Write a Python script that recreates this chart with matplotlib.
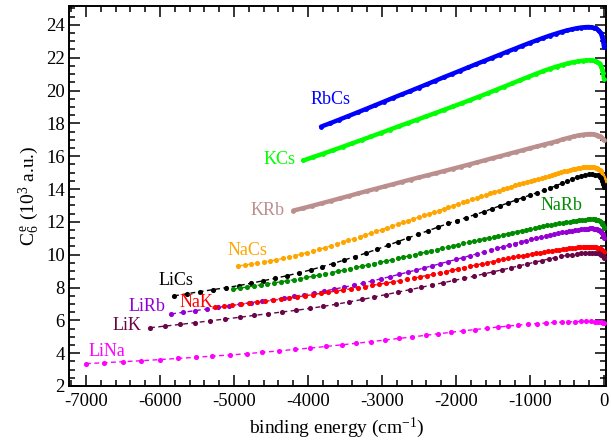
import matplotlib
matplotlib.use("Agg")
import matplotlib.pyplot as plt
from matplotlib.ticker import MultipleLocator

# C6 coefficients of vibrational levels vs binding energy
rbcs_x = [-3824, -3700, -3576, -3453, -3331, -3210, -3090, -2971, -2853, -2736, -2620, -2505,
          -2391, -2278, -2166, -2055, -1945, -1836, -1728, -1621, -1515, -1410, -1306, -1204,
          -1104, -1006, -911, -819, -731, -647, -568, -494, -426, -364, -308, -258, -214, -175,
          -140, -110, -84, -62, -43, -28, -15, -5, 0]
rbcs_y = [17.80, 18.01, 18.23, 18.45, 18.67, 18.89, 19.11, 19.33, 19.55, 19.76, 19.97, 20.18,
          20.39, 20.60, 20.81, 21.01, 21.21, 21.41, 21.61, 21.80, 21.99, 22.18, 22.37, 22.55,
          22.73, 22.90, 23.06, 23.21, 23.35, 23.47, 23.58, 23.67, 23.74, 23.80, 23.84, 23.86,
          23.87, 23.86, 23.83, 23.78, 23.71, 23.61, 23.48, 23.30, 23.07, 22.82, 22.65]

kcs_x = [-4064, -3930, -3797, -3665, -3534, -3404, -3275, -3147, -3020, -2894, -2769, -2645,
         -2522, -2400, -2279, -2159, -2040, -1922, -1805, -1689, -1574, -1460, -1348, -1238,
         -1130, -1025, -923, -825, -731, -642, -559, -482, -411, -347, -290, -240, -196, -158,
         -125, -97, -73, -53, -36, -22, -11, 0]
kcs_y = [15.74, 15.95, 16.15, 16.36, 16.57, 16.78, 16.99, 17.20, 17.41, 17.62, 17.83, 18.03,
         18.23, 18.43, 18.63, 18.83, 19.03, 19.23, 19.43, 19.63, 19.83, 20.04, 20.24, 20.44,
         20.64, 20.83, 21.01, 21.18, 21.33, 21.46, 21.57, 21.66, 21.73, 21.78, 21.82, 21.84,
         21.85, 21.84, 21.81, 21.76, 21.69, 21.59, 21.45, 21.27, 21.04, 20.70]

krb_x = [-4198, -4070, -3943, -3817, -3692, -3568, -3445, -3323, -3202, -3082, -2963, -2845,
         -2728, -2612, -2497, -2383, -2270, -2158, -2047, -1937, -1828, -1720, -1613, -1507,
         -1402, -1298, -1196, -1096, -998, -903, -811, -722, -637, -556, -480, -409, -344,
         -285, -232, -185, -144, -109, -80, -56, -37, -22, -10, 0]
krb_y = [12.69, 12.83, 12.98, 13.13, 13.28, 13.43, 13.58, 13.73, 13.88, 14.02, 14.16, 14.30,
         14.44, 14.58, 14.71, 14.84, 14.97, 15.10, 15.23, 15.36, 15.49, 15.62, 15.75, 15.88,
         16.00, 16.13, 16.25, 16.37, 16.49, 16.60, 16.71, 16.81, 16.91, 17.03, 17.12, 17.20,
         17.27, 17.31, 17.34, 17.35, 17.34, 17.31, 17.26, 17.20, 17.14, 17.08, 17.03, 16.98]

nacs_x = [-4946, -4858, -4770, -4683, -4597, -4511, -4426, -4342, -4258, -4175, -4093, -4011,
          -3930, -3850, -3770, -3691, -3612, -3534, -3457, -3380, -3304, -3228, -3153, -3079,
          -3005, -2932, -2859, -2787, -2716, -2645, -2575, -2506, -2437, -2369, -2301, -2234,
          -2168, -2102, -2037, -1973, -1909, -1846, -1784, -1722, -1661, -1601, -1541, -1482,
          -1424, -1367, -1311, -1255, -1200, -1146, -1093, -1041, -990, -940, -891, -843, -796,
          -750, -705, -661, -618, -577, -537, -498, -460, -423, -388, -354, -321, -290, -260,
          -232, -205, -180, -156, -134, -113, -94, -77, -61, -47, -35, -24, -15, -7, 0]
nacs_y = [9.32, 9.37, 9.43, 9.49, 9.55, 9.62, 9.69, 9.77, 9.85, 9.94, 10.03, 10.13,
          10.23, 10.33, 10.43, 10.54, 10.65, 10.76, 10.87, 10.98, 11.09, 11.20, 11.31, 11.42,
          11.53, 11.64, 11.75, 11.86, 11.97, 12.07, 12.18, 12.28, 12.39, 12.49, 12.59, 12.69,
          12.79, 12.89, 12.99, 13.09, 13.19, 13.28, 13.38, 13.47, 13.56, 13.65, 13.74, 13.83,
          13.91, 13.99, 14.07, 14.15, 14.23, 14.30, 14.37, 14.44, 14.51, 14.57, 14.63, 14.69,
          14.75, 14.81, 14.86, 14.92, 14.97, 15.02, 15.07, 15.11, 15.16, 15.20, 15.24, 15.27,
          15.30, 15.32, 15.34, 15.35, 15.36, 15.36, 15.35, 15.33, 15.31, 15.27, 15.22, 15.16,
          15.08, 14.99, 14.88, 14.76, 14.62, 14.46]

lics_x = [-5811, -5635, -5459, -5284, -5108, -4932, -4770, -4608, -4446, -4284, -4122, -3959,
          -3811, -3662, -3514, -3365, -3216, -3068, -2919, -2784, -2649, -2514, -2378, -2243,
          -2108, -1986, -1865, -1743, -1622, -1514, -1405, -1297, -1189, -1095, -1000, -905,
          -811, -730, -649, -568, -500, -432, -365, -311, -257, -203, -162, -122, -88, -61,
          -41, -23, -9, 0]
lics_y = [7.49, 7.62, 7.75, 7.87, 7.99, 8.12, 8.26, 8.41, 8.56, 8.72, 8.89, 9.08,
          9.27, 9.46, 9.67, 9.88, 10.10, 10.33, 10.57, 10.80, 11.02, 11.24, 11.46, 11.68,
          11.90, 12.08, 12.26, 12.44, 12.62, 12.80, 12.98, 13.15, 13.33, 13.48, 13.63, 13.78,
          13.93, 14.06, 14.20, 14.35, 14.47, 14.60, 14.72, 14.80, 14.87, 14.90, 14.90, 14.88,
          14.84, 14.76, 14.65, 14.50, 14.30, 14.10]

narb_x = [-5014, -4920, -4826, -4732, -4640, -4550, -4460, -4370, -4282, -4195, -4108, -4022,
          -3936, -3850, -3765, -3680, -3596, -3512, -3430, -3348, -3266, -3185, -3104, -3024,
          -2945, -2866, -2788, -2710, -2633, -2557, -2481, -2406, -2332, -2258, -2185, -2113,
          -2041, -1970, -1900, -1830, -1761, -1693, -1626, -1559, -1493, -1428, -1364, -1300,
          -1237, -1175, -1114, -1054, -995, -937, -880, -824, -769, -715, -662, -611, -561,
          -512, -465, -419, -375, -333, -293, -255, -219, -186, -155, -127, -102, -80, -61,
          -45, -32, -21, -12, -5, 0]
narb_y = [7.90, 7.96, 8.03, 8.09, 8.16, 8.22, 8.28, 8.35, 8.41, 8.47, 8.54, 8.61,
          8.68, 8.76, 8.83, 8.91, 8.98, 9.06, 9.14, 9.22, 9.30, 9.38, 9.46, 9.54,
          9.61, 9.69, 9.77, 9.85, 9.93, 10.00, 10.08, 10.16, 10.24, 10.31, 10.39, 10.46,
          10.54, 10.61, 10.69, 10.76, 10.83, 10.90, 10.97, 11.03, 11.10, 11.16, 11.22, 11.29,
          11.35, 11.41, 11.47, 11.52, 11.58, 11.63, 11.68, 11.73, 11.78, 11.82, 11.86, 11.90,
          11.94, 11.97, 12.01, 12.04, 12.07, 12.10, 12.12, 12.14, 12.15, 12.16, 12.16, 12.15,
          12.13, 12.10, 12.06, 12.01, 11.95, 11.87, 11.79, 11.71, 11.62]

lirb_x = [-5850, -5688, -5526, -5364, -5216, -5068, -4919, -4770, -4622, -4473, -4324, -4189,
          -4054, -3919, -3784, -3649, -3514, -3378, -3257, -3135, -3014, -2892, -2770, -2649,
          -2541, -2432, -2324, -2216, -2108, -2000, -1905, -1811, -1716, -1622, -1527, -1446,
          -1365, -1284, -1203, -1122, -1054, -986, -919, -851, -784, -730, -676, -622, -568,
          -514, -473, -432, -392, -351, -311, -277, -243, -216, -189, -162, -142, -122, -101,
          -81, -68, -54, -41, -27, -18, -9, 0]
lirb_y = [6.39, 6.49, 6.59, 6.69, 6.79, 6.89, 6.99, 7.08, 7.17, 7.26, 7.36, 7.46,
          7.56, 7.67, 7.78, 7.90, 8.02, 8.15, 8.27, 8.40, 8.53, 8.66, 8.80, 8.94,
          9.06, 9.19, 9.32, 9.45, 9.58, 9.71, 9.82, 9.94, 10.05, 10.17, 10.28, 10.38,
          10.48, 10.58, 10.68, 10.78, 10.86, 10.93, 11.00, 11.08, 11.15, 11.21, 11.26, 11.31,
          11.36, 11.41, 11.44, 11.47, 11.50, 11.53, 11.55, 11.57, 11.58, 11.59, 11.60, 11.60,
          11.59, 11.58, 11.56, 11.53, 11.50, 11.46, 11.40, 11.32, 11.24, 11.14, 11.00]

nak_x = [-5255, -5141, -5026, -4911, -4796, -4688, -4580, -4472, -4364, -4256, -4148, -4039,
         -3931, -3830, -3729, -3627, -3526, -3425, -3323, -3229, -3134, -3040, -2945, -2851,
         -2756, -2661, -2574, -2486, -2398, -2310, -2222, -2135, -2054, -1972, -1891, -1810,
         -1729, -1655, -1581, -1506, -1432, -1365, -1297, -1229, -1162, -1101, -1040, -979,
         -919, -865, -811, -757, -703, -655, -608, -561, -513, -473, -432, -392, -358, -324,
         -290, -257, -230, -203, -176, -155, -135, -115, -95, -81, -68, -54, -41, -30, -20,
         -11, 0]
nak_y = [6.79, 6.85, 6.91, 6.98, 7.04, 7.10, 7.16, 7.22, 7.29, 7.36, 7.43, 7.50,
         7.57, 7.64, 7.71, 7.78, 7.85, 7.92, 7.99, 8.06, 8.13, 8.20, 8.27, 8.34,
         8.42, 8.50, 8.57, 8.65, 8.73, 8.81, 8.89, 8.97, 9.05, 9.13, 9.21, 9.29,
         9.37, 9.44, 9.51, 9.58, 9.65, 9.71, 9.77, 9.83, 9.89, 9.94, 9.99, 10.04,
         10.09, 10.13, 10.17, 10.21, 10.25, 10.28, 10.31, 10.34, 10.37, 10.39, 10.41, 10.43,
         10.45, 10.46, 10.47, 10.48, 10.48, 10.48, 10.48, 10.47, 10.46, 10.45, 10.43, 10.41,
         10.39, 10.36, 10.33, 10.29, 10.25, 10.21, 10.15]

lik_x = [-6135, -5932, -5730, -5527, -5324, -5122, -4919, -4730, -4541, -4351, -4162, -3973,
         -3797, -3622, -3446, -3270, -3108, -2946, -2784, -2622, -2473, -2324, -2176, -2027,
         -1892, -1757, -1622, -1500, -1378, -1257, -1149, -1041, -932, -838, -743, -662, -581,
         -500, -432, -365, -311, -257, -203, -162, -122, -88, -61, -41, -20, -7, 0]
lik_y = [5.55, 5.65, 5.75, 5.86, 5.97, 6.08, 6.19, 6.30, 6.40, 6.51, 6.61, 6.73,
         6.85, 6.98, 7.12, 7.27, 7.42, 7.57, 7.72, 7.87, 8.01, 8.15, 8.29, 8.43,
         8.56, 8.69, 8.83, 8.95, 9.08, 9.20, 9.32, 9.43, 9.55, 9.64, 9.74, 9.82, 9.90,
         9.96, 10.01, 10.06, 10.09, 10.12, 10.13, 10.13, 10.12, 10.10, 10.06, 10.01, 9.93,
         9.85, 9.79]

lina_x = [-7000, -6757, -6500, -6257, -6000, -5757, -5514, -5297, -5054, -4824, -4622, -4392,
          -4176, -3973, -3757, -3541, -3351, -3149, -2959, -2770, -2595, -2405, -2243, -2068,
          -1905, -1743, -1581, -1432, -1297, -1162, -1027, -905, -784, -676, -568, -486, -392,
          -311, -243, -176, -122, -81, -41, -14, -4]
lina_y = [3.36, 3.42, 3.48, 3.54, 3.61, 3.68, 3.75, 3.82, 3.89, 3.97, 4.05, 4.14,
          4.23, 4.31, 4.41, 4.51, 4.60, 4.70, 4.80, 4.90, 4.99, 5.09, 5.18, 5.27,
          5.36, 5.44, 5.52, 5.59, 5.65, 5.71, 5.76, 5.80, 5.84, 5.87, 5.89, 5.91, 5.92,
          5.93, 5.93, 5.93, 5.92, 5.91, 5.89, 5.86, 5.83]

names = ["RbCs", "KCs", "KRb", "NaCs", "LiCs", "NaRb", "LiRb", "NaK", "LiK", "LiNa"]
colors = ["#0000ff", "#00ff00", "#bc8f8f", "#ffa500", "#000000",
          "#008b00", "#9400d3", "#ff0000", "#670748", "#ff00ff"]
label_x = [-3700, -4390, -4550, -4820, -5780, -570, -6180, -5510, -6450, -6720]
label_y = [19.45, 15.78, 12.67, 10.25, 8.40, 12.98, 6.82, 7.06, 5.66, 4.13]

series = [(rbcs_x, rbcs_y), (kcs_x, kcs_y), (krb_x, krb_y), (nacs_x, nacs_y),
          (lics_x, lics_y), (narb_x, narb_y), (lirb_x, lirb_y), (nak_x, nak_y),
          (lik_x, lik_y), (lina_x, lina_y)]
dense = ["RbCs", "KCs", "KRb"]

plt.rcParams["font.family"] = ["Liberation Serif", "DejaVu Serif"]
plt.rcParams["mathtext.fontset"] = "custom"
plt.rcParams["mathtext.rm"] = "Liberation Serif"
plt.rcParams["mathtext.it"] = "Liberation Serif:italic"
plt.rcParams["axes.unicode_minus"] = False

fig = plt.figure(figsize=(6.11, 4.41), dpi=100)
ax = fig.add_axes([69 / 611, 1 - 386 / 441, 536.5 / 611, 380 / 441])

for (x, y), name, c, lx, ly in zip(series, names, colors, label_x, label_y):
    if name in dense:
        ax.plot(x, y, "-", color=c, lw=3.2, solid_capstyle="round", zorder=2)
        ax.plot(x, y, "o", color=c, ms=3.5, mew=0, zorder=3)
    else:
        ax.plot(x, y, color=c, lw=1.0, ls=(0, (3.5, 2.5)), marker="o", ms=3.7,
                mew=0, zorder=3)
    ax.text(lx, ly, name, color=c, fontsize=13, ha="center", va="center")

ax.set_xlim(-7230, 20)
ax.set_ylim(2, 25.15)
ax.xaxis.set_major_locator(MultipleLocator(1000))
ax.xaxis.set_minor_locator(MultipleLocator(200))
ax.yaxis.set_major_locator(MultipleLocator(2))
ax.yaxis.set_minor_locator(MultipleLocator(0.5))
ax.tick_params(which="both", direction="in", top=True, right=True, width=1.1,
               labelsize=13.5)
ax.tick_params(which="major", length=8)
ax.tick_params(which="minor", length=4.5)
ax.tick_params(axis="x", pad=5)
ax.tick_params(axis="y", pad=3)
for s in ax.spines.values():
    s.set_linewidth(1.4)

ax.set_xlabel("binding energy (cm$^{-1}$)", fontsize=14, labelpad=4)
ax.set_ylabel(r"C$_6^{\,\mathrm{e}}$ (10$^3$ a.u.)", fontsize=14, labelpad=3)

fig.savefig("out.png", dpi=100)
